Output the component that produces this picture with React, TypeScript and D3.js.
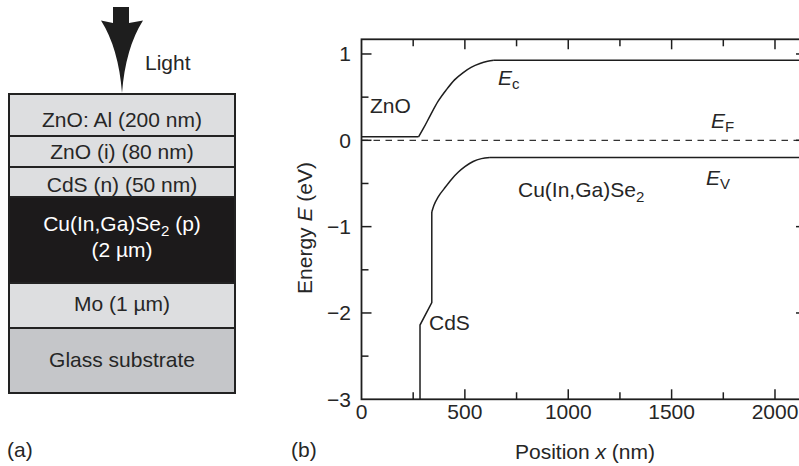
import React from "react";
import * as d3 from "d3";

// Layer stack of the thin-film cell, top to bottom
const layerLabels = ["ZnO: Al (200 nm)", "ZnO (i) (80 nm)", "CdS (n) (50 nm)", "CIGS", "Mo (1 µm)", "Glass substrate"];
const layerKinds = ["light", "light", "light", "dark", "light", "glass"];

// Band edges (position in nm, energy in eV)
const ecFlat: [number, number][] = [[0, 0.04], [276, 0.04]];
const ecRise: [number, number][] = [
  [276, 0.04], [300, 0.14], [331, 0.28], [370, 0.45], [412, 0.59], [450, 0.70],
  [492, 0.785], [530, 0.845], [573, 0.89], [610, 0.915], [640, 0.927],
];
const ecTail: [number, number][] = [[640, 0.927], [2150, 0.927]];

const evSteps: [number, number][] = [[283, -3], [283, -2.14], [340, -1.88], [340, -0.83]];
const evRise: [number, number][] = [
  [340, -0.83], [350, -0.755], [371, -0.655], [400, -0.56], [436, -0.45], [470, -0.365],
  [500, -0.305], [540, -0.245], [580, -0.212], [621, -0.2],
];
const evTail: [number, number][] = [[621, -0.2], [2150, -0.2]];

const fermiLevel = 0;

const xMajorTicks = [0, 500, 1000, 1500, 2000];
const xMinorTicks = [250, 750, 1250, 1750];
const yMajorTicks = [-3, -2, -1, 0, 1];
const yMinorTicks = [-2.5, -1.5, -0.5, 0.5];

const FONT = "'Liberation Sans', Arial, Helvetica, sans-serif";
const INK = "#1e1e1e";
const TEXT = "#262626";
const FS = 21;
const SUB = 15;

export default function App() {
  const W = 799;
  const H = 466;

  // Band diagram frame
  const x = d3.scaleLinear().domain([0, 2150]).range([361.5, 806]);
  const y = d3.scaleLinear().domain([-3, 1.17]).range([399.3, 39.3]);
  const [x0, x1] = x.range();
  const [yb, yt] = y.range();

  const lin = d3.line<[number, number]>().x((d) => x(d[0])).y((d) => y(d[1]));
  const smooth = d3
    .line<[number, number]>()
    .x((d) => x(d[0]))
    .y((d) => y(d[1]))
    .curve(d3.curveMonotoneX);

  // Layer stack geometry
  const stackX = 9;
  const stackW = 226;
  const stackTop = 94;
  const bandHeights = [42, 31, 30, 86, 45, 65];
  const tops: number[] = [];
  bandHeights.reduce((acc, h) => {
    tops.push(acc);
    return acc + h;
  }, stackTop);
  const fills: Record<string, string> = { light: "#dddee0", dark: "#1c1a1b", glass: "#c5c6c9" };
  const cx = stackX + stackW / 2;

  const majorLen = 10;
  const minorLen = 7;

  return (
    <svg
      width={W}
      height={H}
      style={{ position: "absolute", left: 0, top: 0, background: "#fff" }}
      fontFamily={FONT}
    >
      {/* (a) layer stack */}
      <path
        d="M113,7 H129 V23 L143,20.5 Q125.5,48 122,93 Q118.5,48 101,20.5 L113,23 Z"
        fill={INK}
      />
      <text x={145} y={70} fontSize={FS} fill={TEXT}>Light</text>

      {layerLabels.map((label, i) => (
        <rect
          key={label}
          x={stackX}
          y={tops[i]}
          width={stackW}
          height={bandHeights[i]}
          fill={fills[layerKinds[i]]}
          stroke="#222"
          strokeWidth={2}
        />
      ))}
      <text x={cx} y={126.5} fontSize={FS} fill={TEXT} textAnchor="middle">{layerLabels[0]}</text>
      <text x={cx} y={159} fontSize={FS} fill={TEXT} textAnchor="middle">{layerLabels[1]}</text>
      <text x={cx} y={191.5} fontSize={FS} fill={TEXT} textAnchor="middle">{layerLabels[2]}</text>
      <text x={cx} y={231} fontSize={FS} fill="#fff" textAnchor="middle">
        Cu(In,Ga)Se<tspan dy={5} fontSize={SUB}>2</tspan><tspan dy={-5}> (p)</tspan>
      </text>
      <text x={cx} y={257} fontSize={FS} fill="#fff" textAnchor="middle">(2 µm)</text>
      <text x={cx} y={311} fontSize={FS} fill={TEXT} textAnchor="middle">{layerLabels[4]}</text>
      <text x={cx} y={367} fontSize={FS} fill={TEXT} textAnchor="middle">{layerLabels[5]}</text>

      <text x={7} y={457} fontSize={FS} fill={TEXT}>(a)</text>
      <text x={291} y={457} fontSize={FS} fill={TEXT}>(b)</text>

      {/* (b) band diagram */}
      <line
        x1={x0}
        x2={x1}
        y1={y(fermiLevel)}
        y2={y(fermiLevel)}
        stroke="#333"
        strokeWidth={1.2}
        strokeDasharray="6.5,5.5"
      />

      <path d={lin(ecFlat) ?? ""} fill="none" stroke={INK} strokeWidth={1.5} />
      <path d={smooth(ecRise) ?? ""} fill="none" stroke={INK} strokeWidth={1.5} />
      <path d={lin(ecTail) ?? ""} fill="none" stroke={INK} strokeWidth={1.5} />
      <path d={lin(evSteps) ?? ""} fill="none" stroke={INK} strokeWidth={1.5} />
      <path d={smooth(evRise) ?? ""} fill="none" stroke={INK} strokeWidth={1.5} />
      <path d={lin(evTail) ?? ""} fill="none" stroke={INK} strokeWidth={1.5} />

      {/* frame */}
      <rect x={x0} y={yt} width={x1 - x0} height={yb - yt} fill="none" stroke={INK} strokeWidth={1.8} />

      {/* inward ticks on all four sides */}
      {[...xMajorTicks.filter((t) => t > 0).map((t) => [t, majorLen]), ...xMinorTicks.map((t) => [t, minorLen])].map(
        ([t, len]) => (
          <g key={`xt${t}`}>
            <line x1={x(t)} x2={x(t)} y1={yb} y2={yb - len} stroke={INK} strokeWidth={1.5} />
            <line x1={x(t)} x2={x(t)} y1={yt} y2={yt + len} stroke={INK} strokeWidth={1.5} />
          </g>
        )
      )}
      {[...yMajorTicks.filter((t) => t > -3).map((t) => [t, majorLen]), ...yMinorTicks.map((t) => [t, minorLen])].map(
        ([t, len]) => (
          <g key={`yt${t}`}>
            <line x1={x0} x2={x0 + len} y1={y(t)} y2={y(t)} stroke={INK} strokeWidth={1.5} />
            <line x1={x1} x2={x1 - len} y1={y(t)} y2={y(t)} stroke={INK} strokeWidth={1.5} />
          </g>
        )
      )}

      {xMajorTicks.map((t) => (
        <text key={`xl${t}`} x={x(t)} y={419} fontSize={FS} fill={TEXT} textAnchor="middle">
          {t}
        </text>
      ))}
      {yMajorTicks.map((t) => (
        <text key={`yl${t}`} x={351} y={y(t) + 7.5} fontSize={FS} fill={TEXT} textAnchor="end">
          {t < 0 ? `\u2212${Math.abs(t)}` : `${t}`}
        </text>
      ))}

      <text x={585} y={459} fontSize={FS} fill={TEXT} textAnchor="middle">
        Position <tspan fontStyle="italic">x</tspan> (nm)
      </text>
      <text
        transform="translate(312,228) rotate(-90)"
        fontSize={FS}
        fill={TEXT}
        textAnchor="middle"
      >
        Energy <tspan fontStyle="italic">E</tspan> (eV)
      </text>

      {/* band annotations */}
      <text x={370} y={113} fontSize={FS} fill={TEXT}>ZnO</text>
      <text x={429} y={330} fontSize={FS} fill={TEXT}>CdS</text>
      <text x={518} y={197} fontSize={FS} fill={TEXT}>
        Cu(In,Ga)Se<tspan dy={5} fontSize={SUB}>2</tspan>
      </text>
      <text x={498} y={85} fontSize={FS} fill={TEXT}>
        <tspan fontStyle="italic">E</tspan><tspan dy={4} fontSize={SUB}>c</tspan>
      </text>
      <text x={711} y={128} fontSize={FS} fill={TEXT}>
        <tspan fontStyle="italic">E</tspan><tspan dy={4} fontSize={SUB}>F</tspan>
      </text>
      <text x={706} y={185} fontSize={FS} fill={TEXT}>
        <tspan fontStyle="italic">E</tspan><tspan dy={4} fontSize={SUB}>V</tspan>
      </text>
    </svg>
  );
}
